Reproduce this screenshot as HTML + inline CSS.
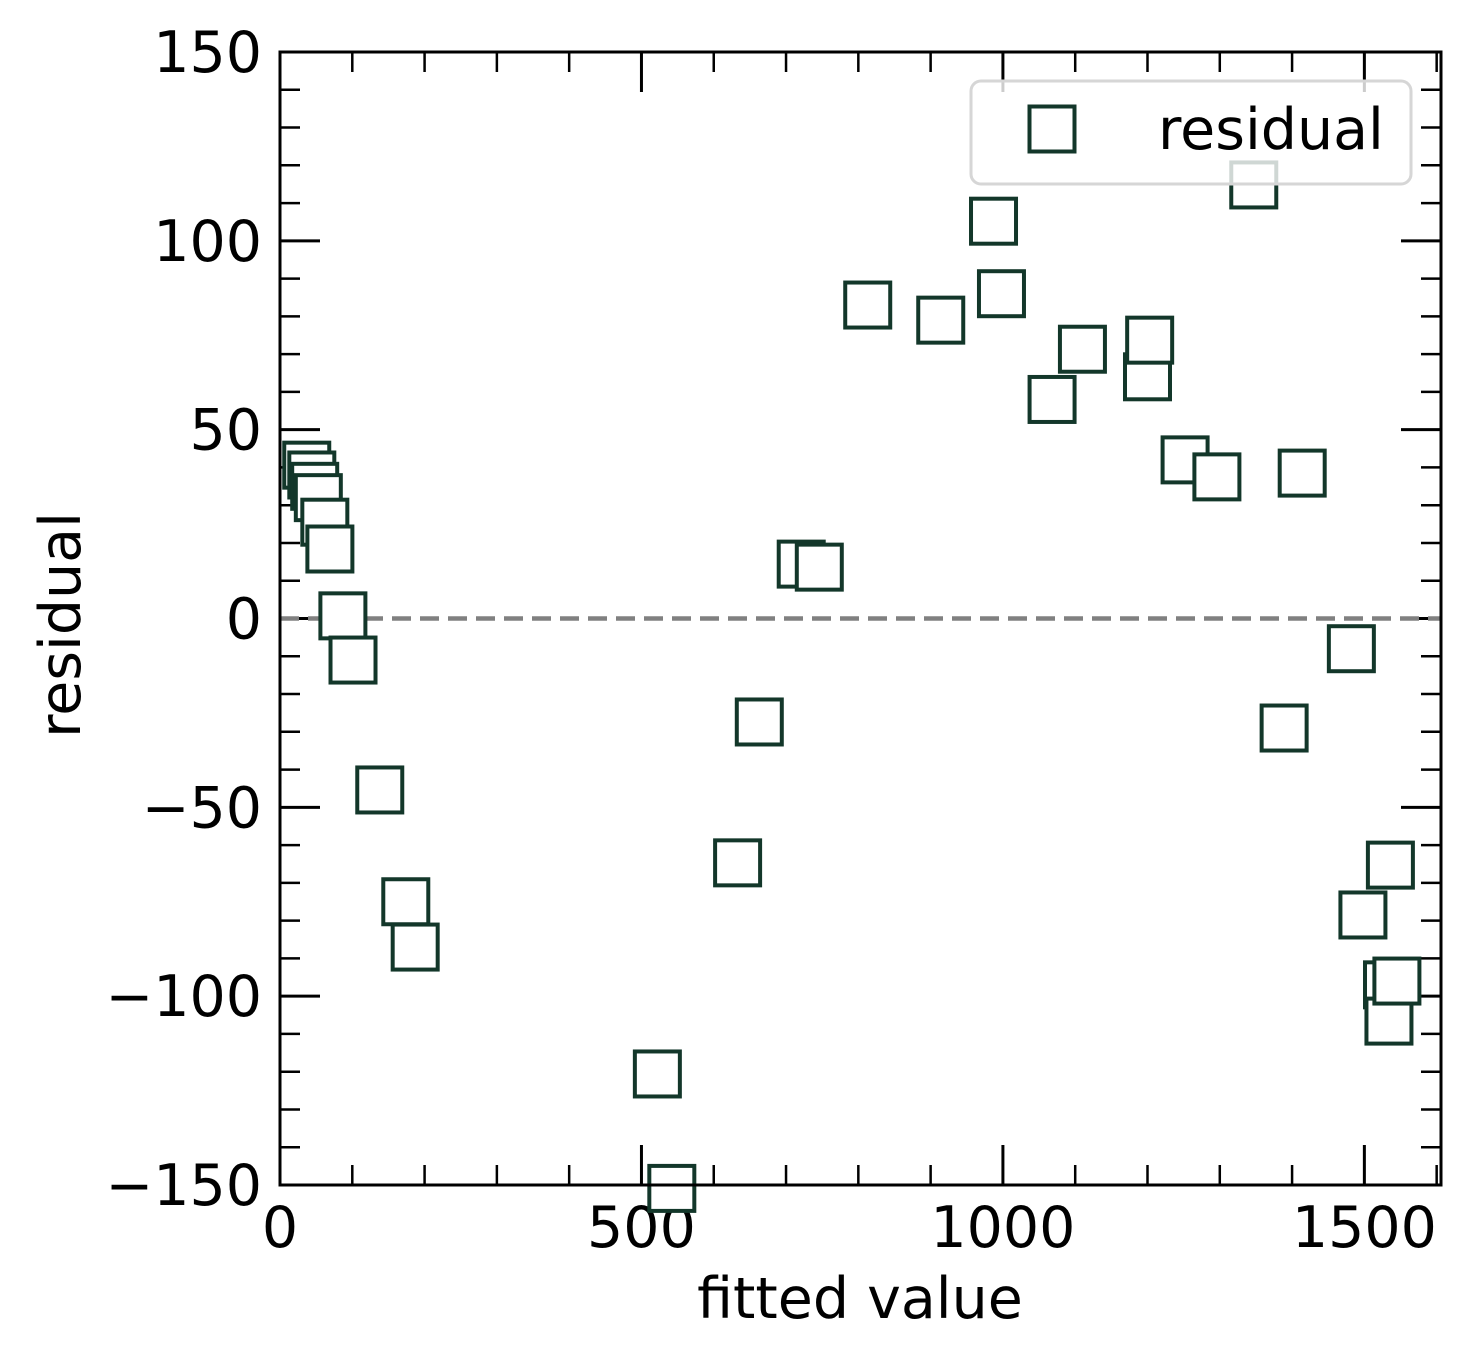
<!DOCTYPE html>
<html><head><meta charset="utf-8"><style>
body{margin:0;background:#fff}
svg{display:block;font-family:"DejaVu Sans","Liberation Sans",sans-serif}
</style></head><body>
<svg id="chart" width="1472" height="1360" viewBox="0 0 1472 1360" xmlns="http://www.w3.org/2000/svg">
<rect width="1472" height="1360" fill="#fff"/>
<g id="ticks"></g>
<line x1="280" y1="618.5" x2="1441" y2="618.5" stroke="#808080" stroke-width="4.5" stroke-dasharray="19,9"/>
<g id="points"></g>
<rect x="280" y="52" width="1161" height="1133" fill="none" stroke="#000" stroke-width="3"/>
<g>
<rect x="971" y="81" width="440" height="103" rx="10" fill="#fff" fill-opacity="0.8" stroke="#d6d6d6" stroke-width="3"/>
<rect x="1029.5" y="106.5" width="45" height="45" fill="none" stroke="#13372a" stroke-width="4"/>
<text x="1158" y="149" font-size="57">residual</text>
</g>
<text x="860" y="1318" font-size="57" text-anchor="middle">fitted value</text>
<text transform="translate(80,625) rotate(-90)" font-size="57" text-anchor="middle">residual</text>
</svg>
<script>
const xVals=[37,44,48,53,62,69,87,101,138,174,187,522,542,633,663,721,746,813,914,987,998,1068,1110,1200,1203,1252,1296,1347,1389,1414,1482,1498,1536,1532,1534,1545];
const yVals=[40.6,38,35,32,25.5,18.4,0.7,-11,-45.4,-75,-87,-120.6,-150.9,-64.7,-27.4,14.4,13.6,83,79,105.2,86,58,71.3,64,73.7,42,37.5,114.8,-29,38.5,-8,-78.5,-65.3,-97,-106.6,-96];
const xTicks=[0,500,1000,1500];
const yTicks=[-150,-100,-50,0,50,100,150];
const X0=280,X1=1441,XMIN=0,XMAX=1606,Y0=1185,Y1=52,YMIN=-150,YMAX=150;
const sx=v=>X0+(v-XMIN)/(XMAX-XMIN)*(X1-X0);
const sy=v=>Y0-(v-YMIN)/(YMAX-YMIN)*(Y0-Y1);
const NS="http://www.w3.org/2000/svg";
const tg=document.getElementById('ticks'),pg=document.getElementById('points');
function ln(x1,y1,x2,y2,w){const l=document.createElementNS(NS,'line');l.setAttribute('x1',x1);l.setAttribute('y1',y1);l.setAttribute('x2',x2);l.setAttribute('y2',y2);l.setAttribute('stroke','#000');l.setAttribute('stroke-width',w);


tg.appendChild(l);}
for(let v=0;v<=1600;v+=100){const x=sx(v),M=v%500===0,L=M?40:20;ln(x,Y0,x,Y0-L,M?3:2.5);ln(x,Y1,x,Y1+L,M?3:2.5);}
for(let v=-150;v<=150;v+=10){const y=sy(v),M=v%50===0,L=M?40:20;ln(X0,y,X0+L,y,M?3:2.5);ln(X1,y,X1-L,y,M?3:2.5);}
xTicks.forEach(v=>{const t=document.createElementNS(NS,'text');t.setAttribute('x',sx(v));t.setAttribute('y',1247);t.setAttribute('font-size','57');t.setAttribute('text-anchor','middle');t.textContent=String(v);


tg.appendChild(t);});
yTicks.forEach(v=>{const t=document.createElementNS(NS,'text');t.setAttribute('x',262);t.setAttribute('y',sy(v)+20);t.setAttribute('font-size','57');t.setAttribute('text-anchor','end');t.textContent=(v<0?'\u2212'+(-v):String(v));


tg.appendChild(t);});
xVals.forEach((v,i)=>{const r=document.createElementNS(NS,'rect');r.setAttribute('x',sx(v)-22.5);r.setAttribute('y',sy(yVals[i])-22.5);r.setAttribute('width',45);r.setAttribute('height',45);r.setAttribute('fill','#fff');r.setAttribute('stroke','#13372a');r.setAttribute('stroke-width',4);


pg.appendChild(r);});
</script>
</body></html>
